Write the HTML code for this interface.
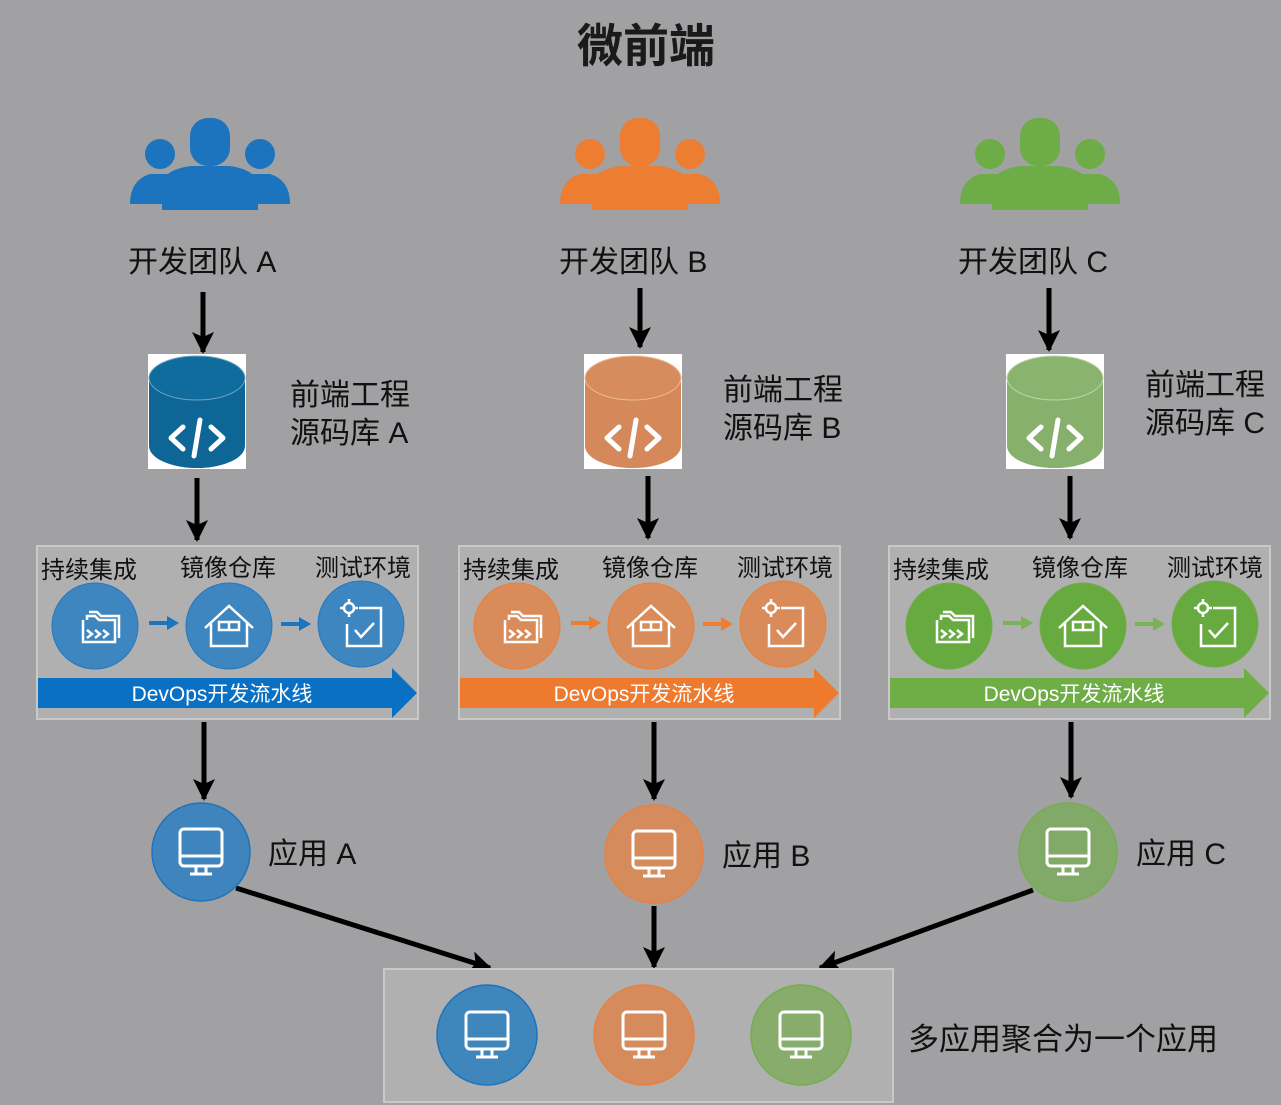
<!DOCTYPE html>
<html><head><meta charset="utf-8"><style>
html,body{margin:0;padding:0;background:#a1a1a3;}
svg{display:block;font-family:"Liberation Sans","Noto Sans CJK SC",sans-serif;}
</style></head><body>
<svg width="1281" height="1105" viewBox="0 0 1281 1105" xmlns="http://www.w3.org/2000/svg">
<defs>
<marker id="ah" markerWidth="24" markerHeight="24" refX="20" refY="12" orient="auto" markerUnits="userSpaceOnUse" viewBox="0 0 24 24"><path d="M0,1 L22,12 L0,23 L5,12z" fill="#000"/></marker>
<g id="people">
<circle cx="-50" cy="36" r="15"/><path d="M-80,86 Q-80,62 -60,56 L-40,56 Q-24,62 -24,86z"/>
<circle cx="50" cy="36" r="15"/><path d="M80,86 Q80,62 60,56 L40,56 Q24,62 24,86z"/>
<rect x="-20" y="0" width="40" height="48" rx="18"/><path d="M-48,92 L-48,66 Q-46,52 -20,48 L20,48 Q46,52 48,66 L48,92z"/>
</g>
<g id="mon" fill="none" stroke="#fff" stroke-width="3">
<rect x="-21" y="-21" width="42" height="37" rx="4"/><line x1="-21" y1="6" x2="21" y2="6"/><line x1="-5" y1="16" x2="-5" y2="24"/><line x1="5" y1="16" x2="5" y2="24"/><line x1="-11" y1="24" x2="11" y2="24"/>
</g>
<g id="ci" fill="none" stroke="#fff" stroke-width="2.5">
<path d="M-16,-8 L-16,14 L16,14 L16,-8 L0,-8 L-4,-12 L-12,-12 L-12,-8"/><path d="M-10,-16 L-2,-16 L2,-12 L20,-12 L20,10"/><path d="M-12,2 l5,4 l-5,4 M-4,2 l5,4 l-5,4 M4,2 l5,4 l-5,4"/>
</g>
<g id="house" fill="none" stroke="#fff" stroke-width="2.5">
<path d="M-24,2 L0,-20 L24,2 M-18,-4 L-18,20 L18,20 L18,-4"/><rect x="-10" y="-4" width="20" height="8"/><line x1="0" y1="-4" x2="0" y2="4"/>
</g>
<g id="test" fill="none" stroke="#fff" stroke-width="2.5">
<path d="M-4,-18 L18,-18 L18,20 L-16,20 L-16,-2"/><path d="M-8,4 l6,7 l13,-14"/><circle cx="-14" cy="-18" r="5"/><path d="M-14,-27 v4 M-14,-13 v4 M-23,-18 h4 M-9,-18 h4"/>
</g>
</defs>

<text x="646" y="62" font-size="46" font-weight="bold" text-anchor="middle" fill="#1a1a1a">微前端</text>

<use href="#people" x="210" y="118" fill="#1b74bd"/>
<use href="#people" x="640" y="118" fill="#ed7d31"/>
<use href="#people" x="1040" y="118" fill="#6dac46"/>

<g font-size="30" fill="#111">
<text x="128" y="272">开发团队 A</text>
<text x="559" y="272">开发团队 B</text>
<text x="958" y="272">开发团队 C</text>
<text x="290" y="405">前端工程</text><text x="290" y="443">源码库 A</text>
<text x="723" y="400">前端工程</text><text x="723" y="438">源码库 B</text>
<text x="1145" y="395">前端工程</text><text x="1145" y="433">源码库 C</text>
<text x="268" y="864">应用 A</text>
<text x="722" y="866">应用 B</text>
<text x="1136" y="864">应用 C</text>
<text x="908" y="1050" font-size="31">多应用聚合为一个应用</text>
</g>

<g stroke="#000" stroke-width="5" fill="none" marker-end="url(#ah)">
<line x1="203" y1="292" x2="203" y2="352"/>
<line x1="640" y1="288" x2="640" y2="347"/>
<line x1="1049" y1="288" x2="1049" y2="350"/>
<line x1="197" y1="478" x2="197" y2="540"/>
<line x1="648" y1="476" x2="648" y2="538"/>
<line x1="1070" y1="476" x2="1070" y2="538"/>
<line x1="204" y1="722" x2="204" y2="799"/>
<line x1="654" y1="722" x2="654" y2="799"/>
<line x1="1071" y1="722" x2="1071" y2="797"/>
<line x1="236" y1="888" x2="490" y2="968"/>
<line x1="654" y1="906" x2="654" y2="967"/>
<line x1="1033" y1="890" x2="820" y2="968"/>
</g>

<g>
<rect x="148" y="354" width="98" height="115" fill="#fff"/>
<path d="M149,378 L149,446 A48,22 0 0 0 245,446 L245,378z" fill="#0d6695"/>
<ellipse cx="197" cy="378" rx="48" ry="22" fill="#0f6c9c" stroke="#6aa6c4" stroke-width="1"/>
<rect x="584" y="354" width="98" height="115" fill="#fff"/>
<path d="M585,378 L585,446 A48,22 0 0 0 681,446 L681,378z" fill="#d5895a"/>
<ellipse cx="633" cy="378" rx="48" ry="22" fill="#d68c5d" stroke="#ecbc9c" stroke-width="1"/>
<rect x="1006" y="354" width="98" height="115" fill="#fff"/>
<path d="M1007,378 L1007,446 A48,22 0 0 0 1103,446 L1103,378z" fill="#88b06d"/>
<ellipse cx="1055" cy="378" rx="48" ry="22" fill="#8ab370" stroke="#bcd6aa" stroke-width="1"/>
<g fill="none" stroke="#fff" stroke-width="5" stroke-linecap="round" stroke-linejoin="round">
<path d="M183,427 l-12,11 l12,11 M211,427 l12,11 l-12,11 M200,420 l-6,36"/>
<path d="M619,427 l-12,11 l12,11 M647,427 l12,11 l-12,11 M636,420 l-6,36"/>
<path d="M1041,427 l-12,11 l12,11 M1069,427 l12,11 l-12,11 M1058,420 l-6,36"/>
</g>
</g>

<g transform="translate(37,546)">
<rect x="0" y="0" width="381" height="173" fill="#b0b0b0" stroke="#c9c9c9" stroke-width="2"/>
<g font-size="24" fill="#111"><text x="4" y="32">持续集成</text><text x="143" y="30">镜像仓库</text><text x="278" y="30">测试环境</text></g>
<g fill="#3d86c0" stroke="#2677c0"><circle cx="58" cy="80" r="43"/><circle cx="192" cy="80" r="43"/><circle cx="324" cy="78" r="43"/></g>
<use href="#ci" x="62" y="82"/><use href="#house" x="192" y="80"/><use href="#test" x="326" y="80"/>
<g stroke="#1a74c0" stroke-width="4"><line x1="112" y1="77" x2="132" y2="77"/><line x1="244" y1="78" x2="264" y2="78"/></g>
<g fill="#1a74c0"><path d="M130,70 L142,77 L130,84z"/><path d="M262,71 L274,78 L262,85z"/></g>
<path d="M1,132 L355,132 L355,122 L380,147 L355,172 L355,162 L1,162z" fill="#0a70c3"/>
<text x="185" y="155" font-size="21" fill="#fff" text-anchor="middle">DevOps开发流水线</text>
</g>
<g transform="translate(459,546)">
<rect x="0" y="0" width="381" height="173" fill="#b0b0b0" stroke="#c9c9c9" stroke-width="2"/>
<g font-size="24" fill="#111"><text x="4" y="32">持续集成</text><text x="143" y="30">镜像仓库</text><text x="278" y="30">测试环境</text></g>
<g fill="#d98b5a" stroke="#ed7d31"><circle cx="58" cy="80" r="43"/><circle cx="192" cy="80" r="43"/><circle cx="324" cy="78" r="43"/></g>
<use href="#ci" x="62" y="82"/><use href="#house" x="192" y="80"/><use href="#test" x="326" y="80"/>
<g stroke="#ed7d31" stroke-width="4"><line x1="112" y1="77" x2="132" y2="77"/><line x1="244" y1="78" x2="264" y2="78"/></g>
<g fill="#ed7d31"><path d="M130,70 L142,77 L130,84z"/><path d="M262,71 L274,78 L262,85z"/></g>
<path d="M1,132 L355,132 L355,122 L380,147 L355,172 L355,162 L1,162z" fill="#ee7a2f"/>
<text x="185" y="155" font-size="21" fill="#fff" text-anchor="middle">DevOps开发流水线</text>
</g>
<g transform="translate(889,546)">
<rect x="0" y="0" width="381" height="173" fill="#b0b0b0" stroke="#c9c9c9" stroke-width="2"/>
<g font-size="24" fill="#111"><text x="4" y="32">持续集成</text><text x="143" y="30">镜像仓库</text><text x="278" y="30">测试环境</text></g>
<g fill="#67aa40" stroke="#6fad47"><circle cx="60" cy="80" r="43"/><circle cx="194" cy="80" r="43"/><circle cx="326" cy="78" r="43"/></g>
<use href="#ci" x="64" y="82"/><use href="#house" x="194" y="80"/><use href="#test" x="328" y="80"/>
<g stroke="#7ab357" stroke-width="4"><line x1="114" y1="77" x2="134" y2="77"/><line x1="246" y1="78" x2="266" y2="78"/></g>
<g fill="#7ab357"><path d="M132,70 L144,77 L132,84z"/><path d="M264,71 L276,78 L264,85z"/></g>
<path d="M1,132 L355,132 L355,122 L380,147 L355,172 L355,162 L1,162z" fill="#6fad47"/>
<text x="185" y="155" font-size="21" fill="#fff" text-anchor="middle">DevOps开发流水线</text>
</g>

<circle cx="201" cy="852" r="49" fill="#3f84bd" stroke="#1f73bc" stroke-width="1.5"/><use href="#mon" x="201" y="850"/>
<circle cx="654" cy="854" r="49" fill="#d68b5c" stroke="#e98040" stroke-width="1.5"/><use href="#mon" x="654" y="852"/>
<circle cx="1068" cy="852" r="49" fill="#81a967" stroke="#74ad4d" stroke-width="1.5"/><use href="#mon" x="1068" y="850"/>

<rect x="384" y="969" width="509" height="133" fill="#b0b0b0" stroke="#c9c9c9" stroke-width="2"/>
<circle cx="487" cy="1035" r="50" fill="#3f86bd" stroke="#1f73bc" stroke-width="1.5"/><use href="#mon" x="487" y="1033"/>
<circle cx="644" cy="1035" r="50" fill="#d68b5c" stroke="#e98040" stroke-width="1.5"/><use href="#mon" x="644" y="1033"/>
<circle cx="801" cy="1035" r="50" fill="#87ac6c" stroke="#74ad4d" stroke-width="1.5"/><use href="#mon" x="801" y="1033"/>
</svg>
</body></html>
